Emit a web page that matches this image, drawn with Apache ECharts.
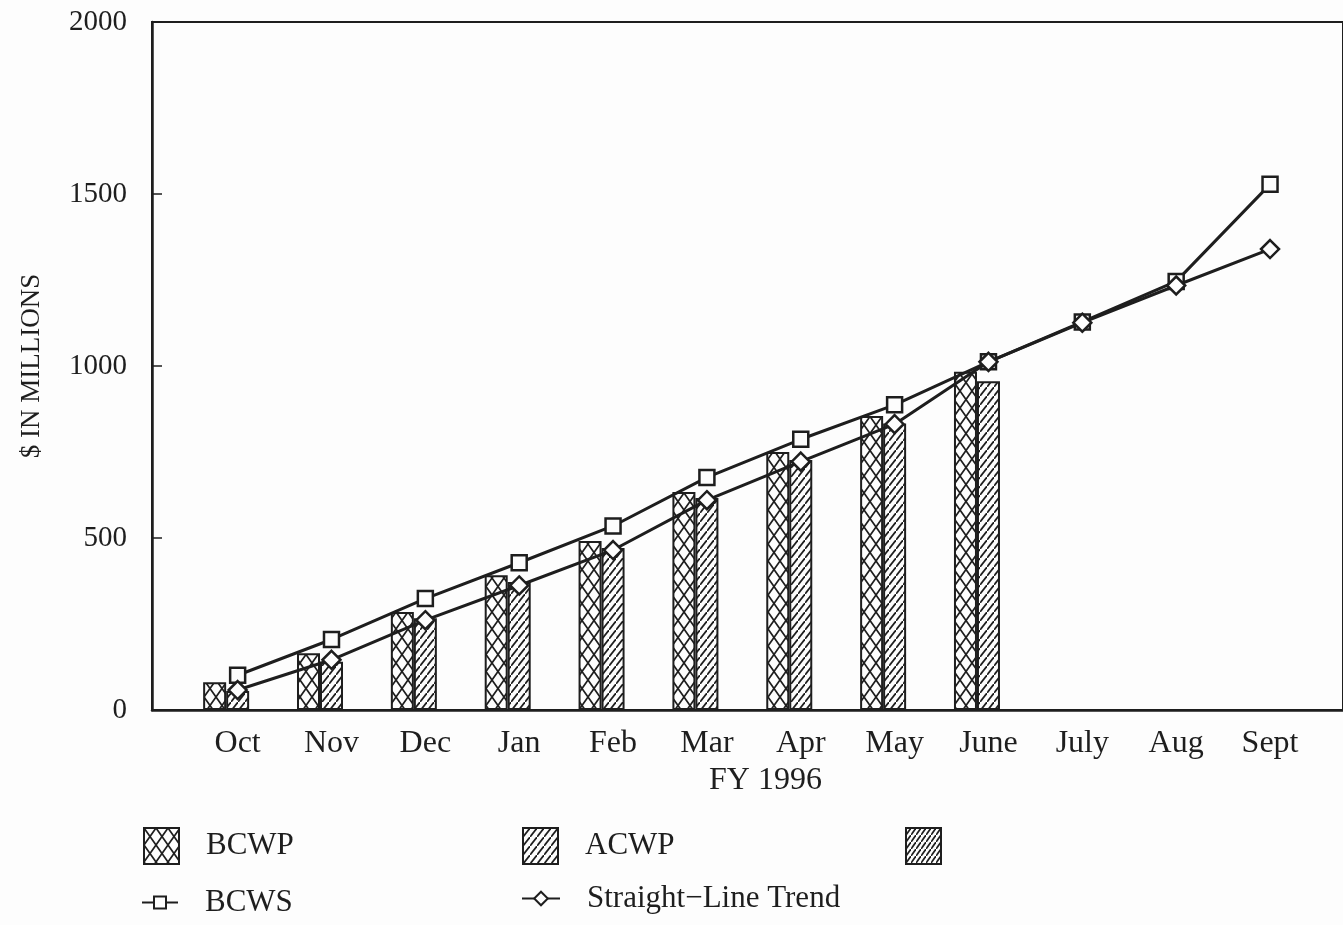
<!DOCTYPE html>
<html>
<head>
<meta charset="utf-8">
<script src="https://cdn.jsdelivr.net/npm/echarts@6/dist/echarts.min.js"></script>
<style>
  html, body { margin: 0; padding: 0; background: #fdfdfd; }
  #chart { width: 1343px; height: 925px; }
</style>
</head>
<body>
<div id="chart"></div>
<script>
const months = ['Oct', 'Nov', 'Dec', 'Jan', 'Feb', 'Mar', 'Apr', 'May', 'June', 'July', 'Aug', 'Sept']
const yTicks = [0, 500, 1000, 1500, 2000]
const bcwp = [81, 165, 285, 392, 491, 634, 750, 855, 983]
const acwp = [55, 140, 267, 372, 471, 616, 727, 833, 956]
const bcws = [101, 205, 324, 428, 535, 676, 787, 887, 1012, 1128, 1246, 1528]
const trend = [58, 146, 261, 362, 465, 610, 722, 831, 1012, 1126, 1234, 1340]

const FONT = '"Liberation Serif", "DejaVu Serif", serif'
const INK = '#1e1e1e'

// small canvas tiles used as hatch fills
function tile(w, h, draw) {
  const c = document.createElement('canvas')
  c.width = w
  c.height = h
  const ctx = c.getContext('2d')
  ctx.fillStyle = '#fdfdfd'
  ctx.fillRect(0, 0, w, h)
  ctx.strokeStyle = INK
  ctx.lineWidth = 1.7
  ctx.beginPath()
  draw(ctx, w, h)
  ctx.stroke()
  return c
}
const crossTile = tile(12, 17, (ctx, w, h) => {
  ctx.moveTo(0, 0); ctx.lineTo(w, h)
  ctx.moveTo(w, 0); ctx.lineTo(0, h)
})
const slashTile = tile(7, 9, (ctx, w, h) => {
  ctx.moveTo(-1, h + 1.3); ctx.lineTo(w + 1, -1.3)
})
const denseTile = tile(5, 7, (ctx, w, h) => {
  ctx.moveTo(-1, h + 1.4); ctx.lineTo(w + 1, -1.4)
})

// x positions: month i sits at value i; the bar pair is centred on it,
// lines and month labels sit on the right-hand (ACWP) bar
const xMin = -0.79
const xMax = 11.9
const shift = 0.1225

const legendText = { fontFamily: FONT, fontSize: 31, color: INK, padding: [0, 0, 0, 22] }
function legendAt(name, left, top, w, h) {
  return {
    data: [name], left: left, top: top, itemWidth: w, itemHeight: h,
    selectedMode: false, textStyle: legendText
  }
}

const chart = echarts.init(document.getElementById('chart'))

const option = {
  backgroundColor: '#fdfdfd',
  animation: false,
  grid: {
    left: 152,
    right: -3,
    top: 22,
    bottom: 215,
    show: true,
    borderColor: INK,
    borderWidth: 2
  },
  legend: [
    Object.assign(legendAt('BCWP', 138, 822, 35, 36), { icon: 'rect' }),
    Object.assign(legendAt('ACWP', 517, 822, 35, 36), { icon: 'rect' }),
    Object.assign(legendAt('\u00a0', 900, 822, 35, 36), { icon: 'rect' }),
    legendAt('BCWS', 136, 882, 36, 15),
    legendAt('Straight\u2212Line Trend', 516, 878, 38, 17)
  ],
  xAxis: [
    {
      type: 'value',
      min: xMin,
      max: xMax,
      axisLine: { show: true, onZero: false, lineStyle: { color: INK, width: 2.5 } },
      axisTick: { show: false },
      axisLabel: { show: false },
      splitLine: { show: false }
    },
    {
      type: 'value',
      position: 'bottom',
      min: xMin - shift,
      max: xMax - shift,
      axisLine: { show: false, onZero: false },
      axisTick: { show: false },
      splitLine: { show: false },
      axisLabel: {
        customValues: months.map((m, i) => i),
        formatter: v => months[v] || '',
        margin: 18,
        fontFamily: FONT,
        fontSize: 32,
        color: INK
      },
      name: 'FY 1996',
      nameLocation: 'middle',
      nameGap: 52,
      nameTextStyle: { fontFamily: FONT, fontSize: 32, color: INK, padding: [0, 0, 0, 36] }
    }
  ],
  yAxis: {
    type: 'value',
    min: 0,
    max: 2000,
    interval: 500,
    axisLine: { show: true, onZero: false, lineStyle: { color: INK, width: 2.5 } },
    axisTick: { show: true, inside: true, length: 10, lineStyle: { color: INK, width: 1.5 } },
    splitLine: { show: false },
    axisLabel: {
      formatter: v => (yTicks.includes(v) ? String(v) : ''),
      margin: 25,
      fontFamily: FONT,
      fontSize: 29,
      color: INK
    },
    name: '$ IN MILLIONS',
    nameLocation: 'middle',
    nameGap: 107,
    nameTextStyle: { fontFamily: FONT, fontSize: 27, color: INK }
  },
  series: [
    {
      name: 'BCWP',
      type: 'bar',
      xAxisIndex: 0,
      barWidth: 23,
      barGap: '0%',
      data: bcwp.map((v, i) => [i, v]),
      itemStyle: { color: { image: crossTile, repeat: 'repeat' }, borderColor: INK, borderWidth: 2 }
    },
    {
      name: 'ACWP',
      type: 'bar',
      xAxisIndex: 0,
      barWidth: 23,
      barGap: '0%',
      data: acwp.map((v, i) => [i, v]),
      itemStyle: { color: { image: slashTile, repeat: 'repeat' }, borderColor: INK, borderWidth: 2 }
    },
    {
      name: '\u00a0',
      type: 'bar',
      xAxisIndex: 1,
      data: [],
      itemStyle: { color: { image: denseTile, repeat: 'repeat' }, borderColor: INK, borderWidth: 2 }
    },
    {
      name: 'BCWS',
      type: 'line',
      xAxisIndex: 1,
      z: 5,
      data: bcws.map((v, i) => [i, v]),
      symbol: 'rect',
      symbolSize: 15,
      lineStyle: { color: INK, width: 3 },
      itemStyle: { color: '#fdfdfd', borderColor: INK, borderWidth: 2.5 }
    },
    {
      name: 'Straight\u2212Line Trend',
      type: 'line',
      xAxisIndex: 1,
      z: 6,
      data: trend.map((v, i) => [i, v]),
      symbol: 'diamond',
      symbolSize: 18,
      lineStyle: { color: INK, width: 3 },
      itemStyle: { color: '#fdfdfd', borderColor: INK, borderWidth: 2.5 }
    }
  ]
}

chart.setOption(option)
</script>
</body>
</html>
